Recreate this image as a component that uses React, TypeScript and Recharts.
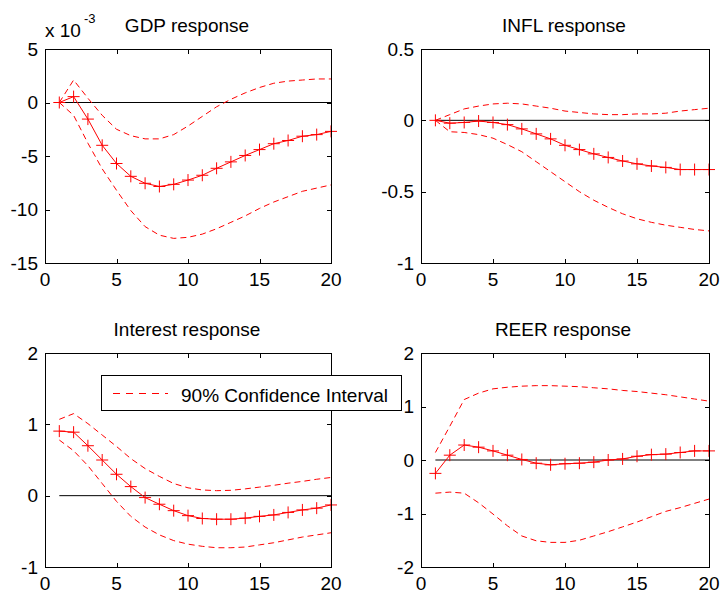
import React from 'react';
import { LineChart, Line, XAxis, YAxis, ReferenceLine } from 'recharts';

// forecast horizon
const periods = [1, 2, 3, 4, 5, 6, 7, 8, 9, 10, 11, 12, 13, 14, 15, 16, 17, 18, 19, 20];
const xTicks = [0, 5, 10, 15, 20];

// GDP response, in units of 10^-3
const gdpMean = [0, 0.55, -1.55, -4.0, -5.7, -6.9, -7.55, -7.85, -7.65, -7.25, -6.8, -6.15, -5.55, -4.95, -4.4, -3.85, -3.55, -3.15, -3.0, -2.7];
const gdpUpper = [0, 2.1, 0.4, -1.2, -2.5, -3.1, -3.4, -3.4, -3.0, -2.2, -1.3, -0.4, 0.3, 0.9, 1.4, 1.8, 2.0, 2.1, 2.2, 2.2];
const gdpLower = [0, -1.2, -3.8, -6.2, -8.2, -10.1, -11.6, -12.4, -12.7, -12.6, -12.3, -11.8, -11.2, -10.6, -9.9, -9.3, -8.8, -8.3, -8.0, -7.7];
const gdpTicks = [-15, -10, -5, 0, 5];

// INFL response
const inflMean = [0, -0.02, -0.015, -0.005, -0.015, -0.03, -0.06, -0.095, -0.13, -0.175, -0.205, -0.235, -0.26, -0.285, -0.305, -0.32, -0.33, -0.345, -0.345, -0.345];
const inflUpper = [0, 0.04, 0.08, 0.1, 0.115, 0.12, 0.115, 0.1, 0.085, 0.065, 0.055, 0.045, 0.04, 0.04, 0.045, 0.045, 0.05, 0.065, 0.075, 0.085];
const inflLower = [0, -0.08, -0.085, -0.1, -0.125, -0.17, -0.22, -0.29, -0.36, -0.43, -0.5, -0.56, -0.61, -0.655, -0.69, -0.715, -0.735, -0.75, -0.765, -0.775];
const inflTicks = [-1, -0.5, 0, 0.5];

// Interest response
const rateMean = [0.905, 0.89, 0.7, 0.5, 0.3, 0.127, -0.027, -0.12, -0.21, -0.28, -0.32, -0.33, -0.33, -0.315, -0.29, -0.27, -0.235, -0.2, -0.175, -0.13];
const rateUpper = [1.07, 1.15, 1.01, 0.85, 0.69, 0.52, 0.38, 0.27, 0.17, 0.11, 0.08, 0.07, 0.075, 0.095, 0.12, 0.145, 0.175, 0.2, 0.23, 0.255];
const rateLower = [0.78, 0.63, 0.42, 0.17, -0.08, -0.29, -0.44, -0.55, -0.63, -0.68, -0.71, -0.73, -0.73, -0.72, -0.69, -0.66, -0.62, -0.58, -0.55, -0.52];
const rateTicks = [-1, 0, 1, 2];

// REER response
const reerMean = [-0.25, 0.09, 0.28, 0.24, 0.17, 0.09, 0.01, -0.06, -0.09, -0.07, -0.06, -0.04, 0, 0.02, 0.07, 0.1, 0.11, 0.14, 0.17, 0.17];
const reerUpper = [0.14, 0.63, 1.13, 1.25, 1.33, 1.36, 1.38, 1.39, 1.39, 1.38, 1.37, 1.35, 1.33, 1.3, 1.28, 1.25, 1.22, 1.18, 1.14, 1.1];
const reerLower = [-0.62, -0.6, -0.62, -0.8, -1.01, -1.23, -1.42, -1.51, -1.54, -1.54, -1.5, -1.42, -1.34, -1.25, -1.16, -1.06, -0.96, -0.89, -0.81, -0.73];
const reerTicks = [-2, -1, 0, 1, 2];

const RED = '#ff0000';
const FONT = '"Liberation Sans", Arial, sans-serif';
const tickStyle = { fill: '#000', fontSize: 19, fontFamily: FONT };
const TICK_LEN = 4;

type Rect = { l: number; t: number; r: number; b: number };

// page-space layout of the four subplots
const layout = [
  { left: 0, top: 0, width: 360, height: 300, plot: { l: 45, t: 49, r: 331, b: 263 } },
  { left: 360, top: 0, width: 361, height: 300, plot: { l: 61, t: 49, r: 349, b: 263 } },
  { left: 0, top: 300, width: 360, height: 293, plot: { l: 45, t: 53, r: 331, b: 267 } },
  { left: 360, top: 300, width: 361, height: 293, plot: { l: 61, t: 53, r: 349, b: 267 } },
];

const PlusDot = (props: any) => {
  const { cx, cy, index } = props;
  if (cx == null || cy == null) return <g key={index} />;
  return (
    <path
      key={index}
      d={`M${cx - 6},${cy}H${cx + 6}M${cx},${cy - 6}V${cy + 6}`}
      stroke={RED}
      strokeWidth={1}
      fill="none"
    />
  );
};

// axes frame as a bordered div, plus inward tick marks
const Frame: React.FC<{ plot: Rect; yTicks: number[] }> = ({ plot, yTicks }) => {
  const yMin = yTicks[0];
  const yMax = yTicks[yTicks.length - 1];
  const w = plot.r - plot.l;
  const h = plot.b - plot.t;
  const px = (v: number) => Math.round((w * v) / 20) + 0.5;
  const py = (v: number) => Math.round(h - (h * (v - yMin)) / (yMax - yMin)) + 0.5;
  return (
    <div
      style={{
        position: 'absolute',
        left: plot.l,
        top: plot.t,
        width: w + 1,
        height: h + 1,
        border: '1px solid #000',
        boxSizing: 'border-box',
        pointerEvents: 'none',
        zIndex: 2,
      }}
    >
      <svg width={w} height={h} style={{ position: 'absolute', left: -1, top: -1, overflow: 'visible' }}>
        {xTicks.slice(1, -1).map((v) => (
          <g key={`x${v}`}>
            <line x1={px(v)} y1={h} x2={px(v)} y2={h - TICK_LEN} stroke="#000" strokeWidth={1} />
            <line x1={px(v)} y1={1} x2={px(v)} y2={1 + TICK_LEN} stroke="#000" strokeWidth={1} />
          </g>
        ))}
        {yTicks.slice(1, -1).map((v) => (
          <g key={`y${v}`}>
            <line x1={1} y1={py(v)} x2={1 + TICK_LEN} y2={py(v)} stroke="#000" strokeWidth={1} />
            <line x1={w} y1={py(v)} x2={w - TICK_LEN} y2={py(v)} stroke="#000" strokeWidth={1} />
          </g>
        ))}
      </svg>
    </div>
  );
};

interface PanelProps {
  left: number;
  top: number;
  width: number;
  height: number;
  plot: Rect;
  mean: number[];
  upper: number[];
  lower: number[];
  yTicks: number[];
}

const Panel: React.FC<PanelProps> = ({ left, top, width, height, plot, mean, upper, lower, yTicks }) => {
  const data = periods.map((t, i) => ({ t, mean: mean[i], upper: upper[i], lower: lower[i] }));
  const yDomain = [yTicks[0], yTicks[yTicks.length - 1]];
  return (
    <div style={{ position: 'absolute', left, top, width, height }}>
      <LineChart
        width={width}
        height={height}
        data={data}
        margin={{ top: plot.t, right: width - plot.r, left: 0, bottom: 0 }}
      >
        <XAxis
          dataKey="t"
          type="number"
          domain={[0, 20]}
          ticks={xTicks}
          height={height - plot.b}
          tickSize={0}
          tickMargin={10}
          tick={tickStyle}
          axisLine={false}
          tickLine={false}
          interval={0}
        />
        <YAxis
          type="number"
          domain={yDomain}
          ticks={yTicks}
          width={plot.l}
          tickSize={0}
          tickMargin={7}
          tick={tickStyle}
          axisLine={false}
          tickLine={false}
          interval={0}
        />
        <ReferenceLine segment={[{ x: 1, y: 0 }, { x: 20, y: 0 }]} stroke="#000" strokeWidth={1} />
        <Line type="linear" dataKey="upper" stroke={RED} strokeWidth={1} strokeDasharray="6 4" dot={false} activeDot={false} isAnimationActive={false} />
        <Line type="linear" dataKey="lower" stroke={RED} strokeWidth={1} strokeDasharray="6 4" dot={false} activeDot={false} isAnimationActive={false} />
        <Line type="linear" dataKey="mean" stroke={RED} strokeWidth={1} dot={PlusDot} activeDot={false} isAnimationActive={false} />
      </LineChart>
      <Frame plot={plot} yTicks={yTicks} />
    </div>
  );
};

export default function App() {
  const series = [
    { mean: gdpMean, upper: gdpUpper, lower: gdpLower, yTicks: gdpTicks },
    { mean: inflMean, upper: inflUpper, lower: inflLower, yTicks: inflTicks },
    { mean: rateMean, upper: rateUpper, lower: rateLower, yTicks: rateTicks },
    { mean: reerMean, upper: reerUpper, lower: reerLower, yTicks: reerTicks },
  ];
  return (
    <div style={{ position: 'absolute', left: 0, top: 0, width: 721, height: 593, background: '#fff', fontFamily: FONT }}>
      {layout.map((box, i) => (
        <Panel key={i} {...box} {...series[i]} />
      ))}

      {/* titles, exponent and legend */}
      <svg width={721} height={593} style={{ position: 'absolute', left: 0, top: 0, pointerEvents: 'none', zIndex: 3 }}>
        <g fontFamily={FONT} fill="#000">
          <text x={187} y={31.5} fontSize={19} textAnchor="middle">GDP response</text>
          <text x={564} y={31.5} fontSize={19} textAnchor="middle">INFL response</text>
          <text x={187} y={336} fontSize={19} textAnchor="middle">Interest response</text>
          <text x={563} y={336} fontSize={19} textAnchor="middle">REER response</text>
          <text x={45} y={37} fontSize={19}>x 10</text>
          <text x={84} y={23} fontSize={13}>-3</text>
        </g>
        <rect x={101.5} y={375.5} width={300} height={35} fill="#fff" stroke="#000" strokeWidth={1} />
        <line x1={113} y1={393.5} x2={168} y2={393.5} stroke={RED} strokeWidth={1} strokeDasharray="7 6" />
        <text x={181} y={401.5} fontSize={19} fontFamily={FONT} fill="#000">90% Confidence Interval</text>
      </svg>
    </div>
  );
}
